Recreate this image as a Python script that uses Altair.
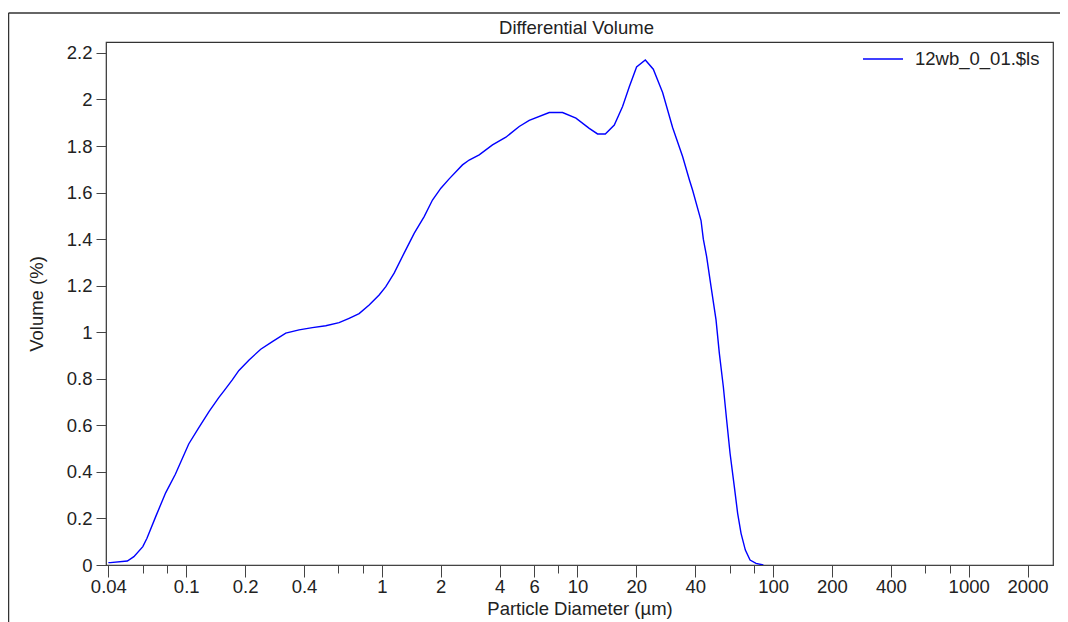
import altair as alt
import pandas as pd

# Particle diameter (µm)
diameter = [0.040, 0.041, 0.050, 0.054, 0.060, 0.063, 0.070, 0.0785, 0.088, 0.103,
            0.116, 0.131, 0.147, 0.156, 0.172, 0.186, 0.2096, 0.2404, 0.2757, 0.3228,
            0.3776, 0.4416, 0.517, 0.6046, 0.6804, 0.7654, 0.8615, 0.9687, 1.048, 1.156,
            1.30, 1.463, 1.646, 1.815, 2.004, 2.209, 2.584, 2.796, 3.146, 3.679,
            4.308, 5.039, 5.669, 7.175, 8.39, 9.825, 11.49, 12.67, 13.88, 15.43,
            17.01, 18.41, 20.06, 22.23, 24.42, 27.25, 30.65, 34.48, 37.33, 38.80,
            42.83, 44.01, 45.75, 48.19, 51.10, 53.12, 55.69, 57.90, 60.27, 63.40,
            65.91, 68.60, 72.17, 76.28, 81.85, 89.2]
# Volume (%)
volume = [0.01, 0.01, 0.017, 0.036, 0.079, 0.115, 0.21, 0.31, 0.39, 0.52,
          0.59, 0.66, 0.72, 0.748, 0.795, 0.836, 0.881, 0.927, 0.960, 0.996,
          1.010, 1.020, 1.028, 1.041, 1.06, 1.08, 1.117, 1.16, 1.196, 1.254,
          1.34, 1.425, 1.497, 1.568, 1.619, 1.659, 1.719, 1.74, 1.762, 1.805,
          1.838, 1.884, 1.91, 1.944, 1.944, 1.92, 1.876, 1.852, 1.852, 1.89,
          1.97, 2.055, 2.14, 2.17, 2.13, 2.03, 1.88, 1.755, 1.655, 1.61,
          1.48, 1.40, 1.325, 1.196, 1.053, 0.91, 0.766, 0.623, 0.48, 0.336,
          0.222, 0.136, 0.064, 0.021, 0.007, 0.0]
series_name = "12wb_0_01.$ls"
chart_title = "Differential Volume"

x_ticks = [0.04, 0.06, 0.08, 0.1, 0.2, 0.4, 0.6, 0.8, 1, 2, 4, 6, 8, 10, 20, 40, 60, 80,
           100, 200, 400, 600, 800, 1000, 2000]
x_minor = [0.06, 0.08, 0.6, 0.8, 8, 60, 80, 600, 800]
y_ticks = [0, 0.2, 0.4, 0.6, 0.8, 1, 1.2, 1.4, 1.6, 1.8, 2, 2.2]

df = pd.DataFrame({"d": diameter, "v": volume, "s": [series_name] * len(diameter)})
title_df = pd.DataFrame({"t": [chart_title]})

FONT = "Liberation Sans"
FS = 18.5
TXT = "#222222"
AX = "#444444"
W, H = 947, 523

minor_list = "[" + ",".join(str(m) for m in x_minor) + "]"

line = alt.Chart(df).mark_line(strokeWidth=1.4, clip=True).encode(
    x=alt.X("d:Q",
            scale=alt.Scale(type="log", domain=[0.0389, 2698], nice=False),
            axis=alt.Axis(values=x_ticks, format="~g", grid=False,
                          labelExpr=f"indexof({minor_list}, datum.value) >= 0 ? '' : datum.label",
                          tickSize={"condition": {"test": f"indexof({minor_list}, datum.value) >= 0", "value": 8}, "value": 12},
                          tickColor=AX, domainColor=AX, labelColor=TXT, labelFont=FONT,
                          labelFontSize=FS, labelPadding=0, labelFlush=False,
                          labelOverlap=False,
                          title="Particle Diameter (µm)", titleFont=FONT, titleFontSize=FS,
                          titleFontWeight="normal", titleColor=TXT, titlePadding=4)),
    y=alt.Y("v:Q",
            scale=alt.Scale(domain=[0, 2.247], nice=False, zero=True),
            axis=alt.Axis(values=y_ticks, format="~g", grid=False, tickSize=10,
                          tickColor=AX, domainColor=AX, labelColor=TXT, labelFont=FONT,
                          labelFontSize=FS, labelPadding=4, labelFlush=False,
                          labelOverlap=False,
                          title="Volume (%)", titleFont=FONT, titleFontSize=FS,
                          titleFontWeight="normal", titleColor=TXT, titlePadding=20)),
    color=alt.Color("s:N", scale=alt.Scale(range=["#0000ff"]),
                    legend=alt.Legend(title=None, orient="none", legendX=756, legendY=-4,
                                      symbolType="stroke", symbolSize=1600,
                                      symbolStrokeWidth=1.4, labelOffset=11,
                                      labelFont=FONT, labelFontSize=FS, labelColor=TXT,
                                      padding=0)),
)

title_text = alt.Chart(title_df).mark_text(
    font=FONT, fontSize=FS, color=TXT, align="center", baseline="middle"
).encode(x=alt.value(470.5), y=alt.value(-14), text="t:N")

frame_top = alt.Chart(title_df).mark_rule(color="#333333", strokeWidth=1.5).encode(
    x=alt.value(-97.5), x2=alt.value(W + 30), y=alt.value(-29)
)
frame_left = alt.Chart(title_df).mark_rule(color="#333333", strokeWidth=1.5).encode(
    x=alt.value(-97.5), y=alt.value(-29), y2=alt.value(H + 80)
)

chart = alt.layer(frame_top, frame_left, title_text, line).properties(
    width=W, height=H,
    padding={"left": 98, "top": 34, "right": 7, "bottom": 57},
    autosize=alt.AutoSizeParams(type="none"),
).configure_view(stroke="#333333", strokeWidth=1.2)

chart.save("out.html", embed_options={"renderer": "svg", "actions": False})
